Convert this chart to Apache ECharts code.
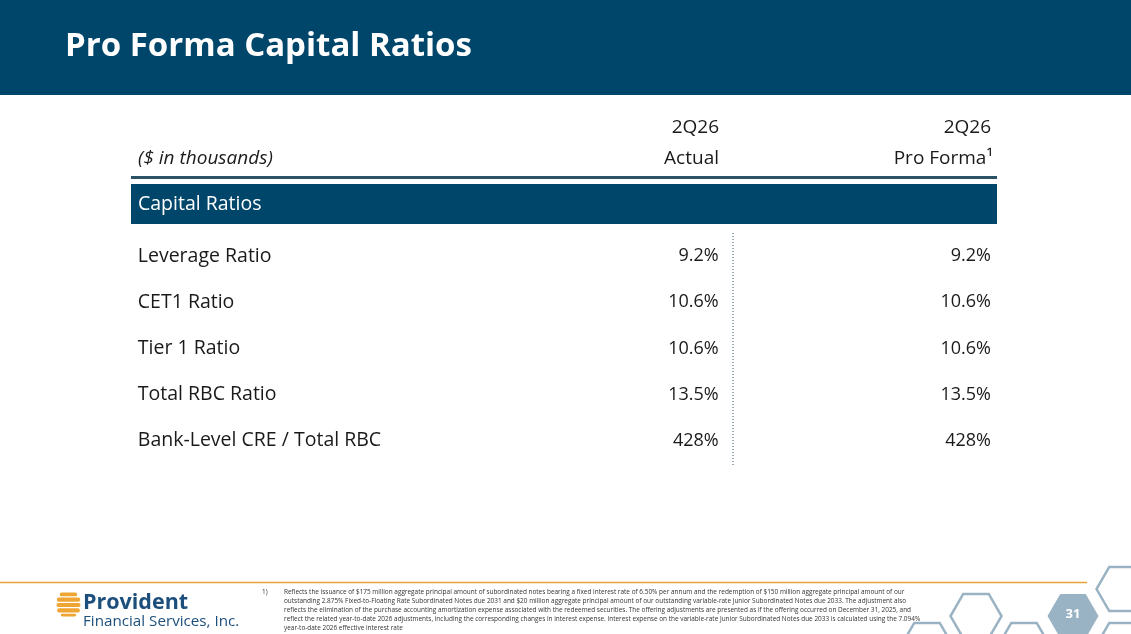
<!DOCTYPE html>
<html>
<head>
<meta charset="utf-8">
<title>Pro Forma Capital Ratios</title>
<script src="https://cdn.jsdelivr.net/npm/echarts@6/dist/echarts.min.js"></script>
<style>
    html, body { margin: 0; padding: 0; background: #fff; }
    #main { width: 1131px; height: 634px; }
</style>
</head>
<body>
<div id="main"></div>
<script>
var rowLabels = ['Leverage Ratio', 'CET1 Ratio', 'Tier 1 Ratio', 'Total RBC Ratio', 'Bank-Level CRE / Total RBC'];
var actualValues = [9.2, 10.6, 10.6, 13.5, 428];
var proFormaValues = [9.2, 10.6, 10.6, 13.5, 428];
var valueDecimals = [1, 1, 1, 1, 0];
var headerTop = ['2Q26', '2Q26'];
var headerBottom = ['Actual', 'Pro Forma\u00b9'];
var sectionName = 'Capital Ratios';
var pageNumber = '31';
var footnoteLines = [
    'Reflects the issuance of $175 million aggregate principal amount of subordinated notes bearing a fixed interest rate of 6.50% per annum and the redemption of $150 million aggregate principal amount of our',
    'outstanding 2.875% Fixed-to-Floating Rate Subordinated Notes due 2031 and $20 million aggregate principal amount of our outstanding variable-rate Junior Subordinated Notes due 2033. The adjustment also',
    'reflects the elimination of the purchase accounting amortization expense associated with the redeemed securities. The offering adjustments are presented as if the offering occurred on December 31, 2025, and',
    'reflect the related year-to-date 2026 adjustments, including the corresponding changes in interest expense. Interest expense on the variable-rate Junior Subordinated Notes due 2033 is calculated using the 7.094%',
    'year-to-date 2026 effective interest rate'
];

// column anchors, as a share of the table width
var COL = { label: 0.009, actual: 0.679, proForma: 0.993 };
var NAVY = '#00466b';
var INK = '#1a1a1a';
var HEX = '#9ab3c4';
var FONT = '"Open Sans", "DejaVu Sans", sans-serif';

function fmt(v, d) {
    return v.toFixed(d) + '%';
}

function textColumn(name, xPos, texts, align, font) {
    return {
        type: 'custom',
        name: name,
        coordinateSystem: 'cartesian2d',
        data: rowLabels.map(function (r) { return [xPos, r]; }),
        renderItem: function (params, api) {
            var pt = api.coord([api.value(0), api.value(1)]);
            return {
                type: 'text',
                x: pt[0], y: pt[1],
                style: {
                    text: texts[params.dataIndex],
                    fill: INK,
                    font: font,
                    textAlign: align,
                    textVerticalAlign: 'middle'
                }
            };
        }
    };
}

function hexagon(cx, cy, r, filled) {
    var pts = [];
    for (var k = 0; k < 6; k++) {
        var a = Math.PI / 3 * k;
        pts.push([cx + r * Math.cos(a), cy + r * Math.sin(a)]);
    }
    return {
        type: 'polygon',
        shape: { points: pts },
        style: filled ? { fill: HEX } : { fill: 'none', stroke: HEX, lineWidth: 2.5 }
    };
}

function logoStripes(cx, cy, r) {
    var out = [];
    var bands = [[-12, -8.2], [-7, -2.8], [-1.6, 2.6], [3.8, 8], [9.2, 12]];
    for (var b = 0; b < bands.length; b++) {
        var y0 = bands[b][0], y1 = bands[b][1];
        var yMid = Math.abs(y0) < Math.abs(y1) ? y0 : y1;
        if (y0 < 0 && y1 > 0) yMid = 0;
        var half = Math.sqrt(Math.max(r * r - yMid * yMid, 0));
        out.push({
            type: 'rect',
            shape: { x: cx - half, y: cy + y0, width: half * 2, height: y1 - y0, r: 2 },
            style: { fill: '#efa531' }
        });
    }
    return out;
}

var chart = echarts.init(document.getElementById('main'));

var HEAD_FONT = '19px ' + FONT;
var graphics = [
    { type: 'rect', shape: { x: 0, y: 0, width: 1131, height: 95 }, style: { fill: NAVY } },
    { type: 'text', x: 65, y: 47, style: { text: 'Pro Forma Capital Ratios', fill: '#fff', font: 'bold 33px ' + FONT, textVerticalAlign: 'middle' } },

    { type: 'text', x: 719, y: 128, style: { text: headerTop[0], fill: INK, font: HEAD_FONT, textAlign: 'right', textVerticalAlign: 'middle' } },
    { type: 'text', x: 991, y: 128, style: { text: headerTop[1], fill: INK, font: HEAD_FONT, textAlign: 'right', textVerticalAlign: 'middle' } },
    { type: 'text', x: 719, y: 159, style: { text: headerBottom[0], fill: INK, font: HEAD_FONT, textAlign: 'right', textVerticalAlign: 'middle' } },
    { type: 'text', x: 993, y: 159, style: { text: headerBottom[1], fill: INK, font: HEAD_FONT, textAlign: 'right', textVerticalAlign: 'middle' } },
    { type: 'text', x: 138, y: 159, style: { text: '($ in thousands)', fill: INK, font: 'italic 19px ' + FONT, textVerticalAlign: 'middle' } },

    { type: 'rect', shape: { x: 131, y: 176, width: 866, height: 3 }, style: { fill: '#2a5465' } },
    { type: 'rect', shape: { x: 131, y: 184, width: 866, height: 40 }, style: { fill: NAVY } },
    { type: 'text', x: 138, y: 204, style: { text: sectionName, fill: '#fff', font: '19.5px ' + FONT, textVerticalAlign: 'middle' } },

    { type: 'line', shape: { x1: 733, y1: 233, x2: 733, y2: 466 }, style: { stroke: '#2a5465', lineWidth: 1, lineDash: [1, 2] } },

    { type: 'line', shape: { x1: 0, y1: 582.5, x2: 1087, y2: 582.5 }, style: { stroke: '#e9a23b', lineWidth: 1.5 } },
    { type: 'text', x: 262, y: 592, style: { text: '1)', fill: '#333', font: '6.4px ' + FONT, textVerticalAlign: 'middle' } },

    { type: 'text', x: 83, y: 603, style: { text: 'Provident', fill: '#1d4f7c', font: 'bold 21.5px ' + FONT, textVerticalAlign: 'middle' } },
    { type: 'text', x: 83, y: 622, style: { text: 'Financial Services, Inc.', fill: '#1d4f7c', font: '15.2px ' + FONT, textVerticalAlign: 'middle' } },

    hexagon(976, 616, 25.5, false),
    hexagon(927, 645, 25.5, false),
    hexagon(1024, 645, 25.5, false),
    hexagon(1122, 589, 25.5, false),
    hexagon(1122, 645, 25.5, false),
    hexagon(1073, 616, 25.5, true),
    { type: 'text', x: 1073, y: 614, style: { text: pageNumber, fill: '#fff', font: 'bold 13px ' + FONT, textAlign: 'center', textVerticalAlign: 'middle' } }
];

for (var i = 0; i < footnoteLines.length; i++) {
    graphics.push({
        type: 'text', x: 284, y: 592 + i * 9,
        style: { text: footnoteLines[i], fill: '#333', font: '6.45px ' + FONT, textVerticalAlign: 'middle' }
    });
}
graphics = graphics.concat(logoStripes(68.5, 604.5, 12));

var option = {
    animation: false,
    backgroundColor: '#fff',
    grid: { left: 130, right: 134, top: 233, height: 231 },
    xAxis: { type: 'value', min: 0, max: 1, show: false },
    yAxis: { type: 'category', data: rowLabels, inverse: true, show: false },
    series: [
        textColumn('label', COL.label, rowLabels, 'left', '19.5px ' + FONT),
        textColumn('actual', COL.actual, actualValues.map(function (v, j) { return fmt(v, valueDecimals[j]); }), 'right', '18px ' + FONT),
        textColumn('proForma', COL.proForma, proFormaValues.map(function (v, j) { return fmt(v, valueDecimals[j]); }), 'right', '18px ' + FONT)
    ],
    graphic: graphics
};

chart.setOption(option);
</script>
</body>
</html>
